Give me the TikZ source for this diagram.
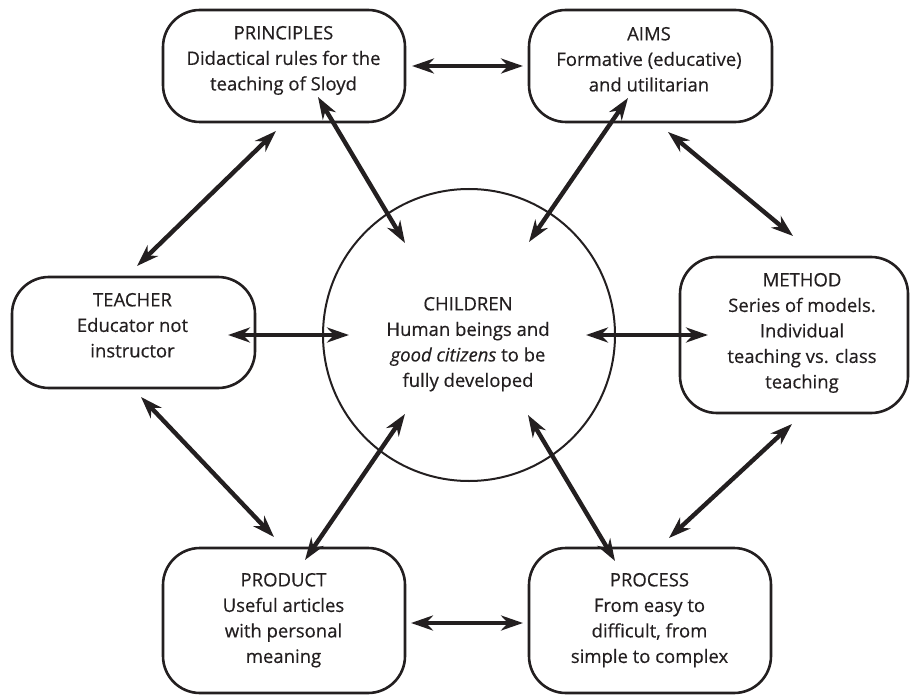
\documentclass[tikz,border=0pt]{standalone}
\usepackage{fontspec}
\setmainfont{Open Sans}[FakeBold=0.4]
\usetikzlibrary{arrows.meta}
\definecolor{ink}{HTML}{231F20}
\begin{document}
\begin{tikzpicture}[x=1pt,y=-1pt,
  every node/.style={inner sep=0pt, outer sep=0pt},
  box/.style={draw=ink, line width=2.6pt, rounded corners=37pt},
  hub/.style={draw=ink, line width=2pt, circle, minimum size=292pt},
  txt/.style={anchor=north, align=center, text=ink, font=\fontsize{18.5pt}{25.5pt}\selectfont},
  tip/.tip={Stealth[length=22pt,width=15pt,inset=7pt]},
  link/.style={draw=ink, line width=4.4pt, tip-tip}
]
\useasboundingbox (0,0) rectangle (910,695);

% boxes
\node[box, minimum width=242pt, minimum height=112pt] (prin) at (284,66) {};
\node[box, minimum width=243pt, minimum height=112pt] (aims) at (650.5,66) {};
\node[box, minimum width=243pt, minimum height=111pt] (teach) at (133.5,332.5) {};
\node[box, minimum width=228pt, minimum height=156pt] (meth) at (794,335) {};
\node[box, minimum width=242pt, minimum height=145pt] (prod) at (284,620.5) {};
\node[box, minimum width=242pt, minimum height=145pt] (proc) at (650,620.5) {};
\node[hub] (child) at (469,335) {};

% texts
\node[txt] (prinT) at (283.5,26) {PRINCIPLES\\Didactical rules for the\\teaching of Sloyd};
\node[txt] (aimsT) at (649,27) {AIMS\\Formative (educative)\\and utilitarian};
\node[txt] (teachT) at (132.5,293) {TEACHER\\Educator not\\instructor};
\node[txt] (methT) at (802,273) {METHOD\\Series of models.\\Individual\\teaching vs. class\\teaching};
\node[txt] (prodT) at (283.5,573) {PRODUCT\\Useful articles\\with personal\\meaning};
\node[txt] (procT) at (649.5,573) {PROCESS\\From easy to\\difficult, from\\simple to complex};
\node[txt] (childT) at (468,297) {CHILDREN\\Human beings and\\\textit{good citizens} to be\\fully developed};

% connector ends
\coordinate (a1s) at (412,66);   \coordinate (a1e) at (523,66);
\coordinate (a2s) at (318,97);   \coordinate (a2e) at (405,243);
\coordinate (a3s) at (628,98);   \coordinate (a3e) at (529,242);
\coordinate (a4s) at (668,132);  \coordinate (a4e) at (793,236);
\coordinate (a5s) at (276,131);  \coordinate (a5e) at (137,266);
\coordinate (a6s) at (228,335);  \coordinate (a6e) at (349,335);
\coordinate (a7s) at (586,335);  \coordinate (a7e) at (708,335);
\coordinate (a8s) at (141,397);  \coordinate (a8e) at (274,537);
\coordinate (a9s) at (405,414);  \coordinate (a9e) at (305,560);
\coordinate (a10s) at (528,415); \coordinate (a10e) at (615,561);
\coordinate (a11s) at (792,424); \coordinate (a11e) at (669,538);
\coordinate (a12s) at (411,623); \coordinate (a12e) at (523,623);

\foreach \i in {1,...,12} {\draw[link] (a\i s) -- (a\i e);}
\end{tikzpicture}
\end{document}
